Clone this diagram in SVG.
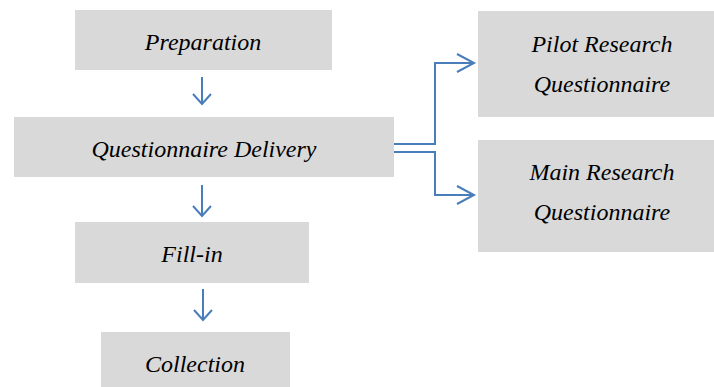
<svg xmlns="http://www.w3.org/2000/svg" width="714" height="387" viewBox="0 0 714 387">
<style>
.box{fill:#d9d9d9}
.c{fill:none;stroke:#4a7ebb;stroke-width:2}
</style>
<rect width="714" height="387" fill="#fff"/>
<g font-size="24" fill="#000" text-anchor="middle">
<g id="preparation"><rect class="box" x="75" y="10" width="257" height="60"/><text x="203" y="50" style="font-family:'Liberation Serif',serif;font-style:italic">Preparation</text></g>
<g id="delivery"><rect class="box" x="14" y="117" width="380" height="60"/><text x="204" y="157" style="font-family:'Liberation Serif',serif;font-style:italic">Questionnaire Delivery</text></g>
<g id="fillin"><rect class="box" x="75" y="222" width="234" height="61"/><text x="192" y="262" style="font-family:'Liberation Serif',serif;font-style:italic">Fill-in</text></g>
<g id="collection"><rect class="box" x="101" y="332" width="189" height="55"/><text x="195" y="372" style="font-family:'Liberation Serif',serif;font-style:italic">Collection</text></g>
<g id="pilot"><rect class="box" x="478" y="11" width="236" height="106"/><text x="602" y="52" style="font-family:'Liberation Serif',serif;font-style:italic">Pilot Research</text><text x="602" y="92" style="font-family:'Liberation Serif',serif;font-style:italic">Questionnaire</text></g>
<g id="main"><rect class="box" x="478" y="140" width="236" height="112"/><text x="602" y="180" style="font-family:'Liberation Serif',serif;font-style:italic">Main Research</text><text x="602" y="220" style="font-family:'Liberation Serif',serif;font-style:italic">Questionnaire</text></g>
</g>
<g id="connectors">
<path class="c" d="M202 77V104M193 94L202 104L211 94"/>
<path class="c" d="M202 185V216M193 206L202 216L211 206"/>
<path class="c" d="M203 289V320M194 310L203 320L212 310"/>
<path class="c" d="M394 144H435V63H474M457 54L474 63L457 72"/>
<path class="c" d="M394 152H435V195H474M457 186L474 195L457 204"/>
</g>
</svg>
